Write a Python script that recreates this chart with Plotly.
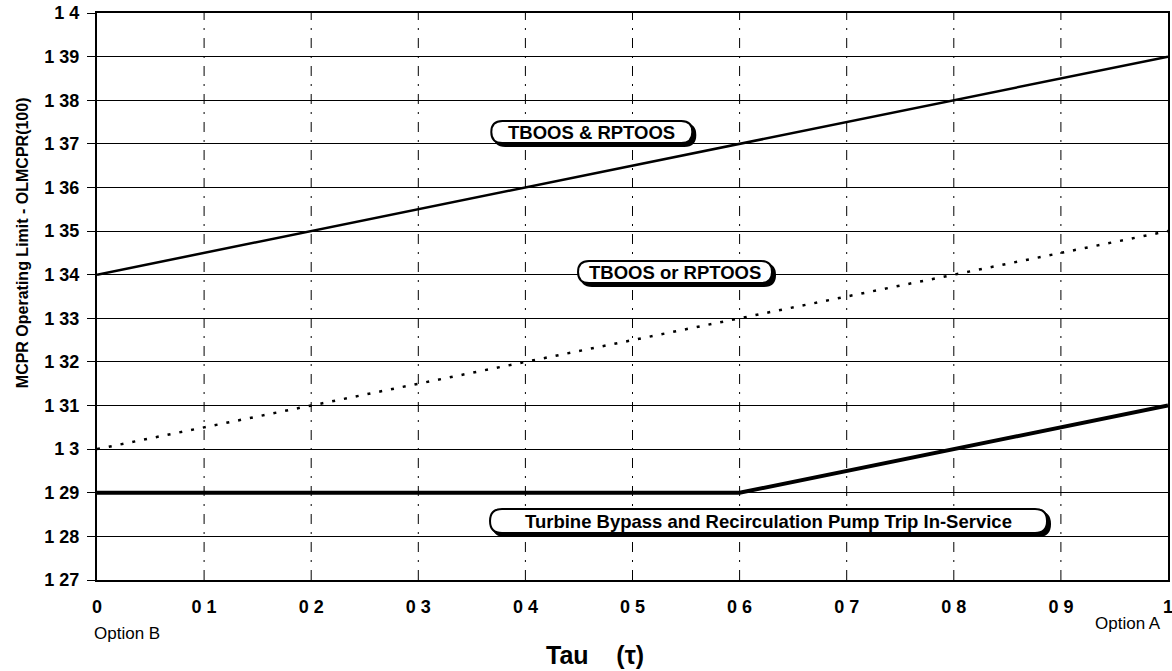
import plotly.graph_objects as go

# Data
tau_both = [0.0, 1.0]
ol_both = [1.34, 1.39]          # TBOOS & RPTOOS
tau_either = [0.0, 1.0]
ol_either = [1.30, 1.35]        # TBOOS or RPTOOS
tau_inserv = [0.0, 0.6, 1.0]
ol_inserv = [1.29, 1.29, 1.31]  # Turbine Bypass and Recirculation Pump Trip In-Service

y_tickvals = [1.27, 1.28, 1.29, 1.30, 1.31, 1.32, 1.33, 1.34, 1.35, 1.36, 1.37, 1.38, 1.39, 1.40]
y_ticktext = ["1 27", "1 28", "1 29", "1 3", "1 31", "1 32", "1 33", "1 34", "1 35", "1 36", "1 37", "1 38", "1 39", "1 4"]
x_tickvals = [0, 0.1, 0.2, 0.3, 0.4, 0.5, 0.6, 0.7, 0.8, 0.9, 1.0]
x_ticktext = ["0", "0 1", "0 2", "0 3", "0 4", "0 5", "0 6", "0 7", "0 8", "0 9", "1"]

# label text, anchor x, anchor y, box width px, box height px
labels = [
    ("TBOOS & RPTOOS", 0.462, 1.3727, 201, 22),
    ("TBOOS or RPTOOS", 0.5397, 1.3406, 194, 22),
    ("Turbine Bypass and Recirculation Pump Trip In-Service", 0.627, 1.2835, 557, 24),
]

FONT = "Liberation Sans, Arial, sans-serif"


def stadium(w, h, dx=0.0, dy=0.0):
    r = h / 2.0
    L, R, T, B = -w / 2 + dx, w / 2 + dx, h / 2 + dy, -h / 2 + dy
    cy = dy
    return (f"M {L + r},{T} L {R - r},{T} Q {R},{T} {R},{cy} Q {R},{B} {R - r},{B} "
            f"L {L + r},{B} Q {L},{B} {L},{cy} Q {L},{T} {L + r},{T} Z")


fig = go.Figure()

# vertical dash-dot gridlines
for xv in x_tickvals[1:-1]:
    fig.add_shape(type="line", x0=xv, x1=xv, y0=1.27, y1=1.40, xref="x", yref="y",
                  line=dict(color="black", width=1, dash="10px,8px,2px,8px"), layer="below")

fig.add_trace(go.Scatter(x=tau_both, y=ol_both, mode="lines",
                         line=dict(color="black", width=2.5), showlegend=False))
fig.add_trace(go.Scatter(x=tau_either, y=ol_either, mode="lines",
                         line=dict(color="black", width=2.5, dash="3px,9px"), showlegend=False))
fig.add_trace(go.Scatter(x=tau_inserv, y=ol_inserv, mode="lines",
                         line=dict(color="black", width=4), showlegend=False))

for text, lx, ly, bw, bh in labels:
    common = dict(type="path", xref="x", yref="y", xsizemode="pixel", ysizemode="pixel",
                  xanchor=lx, yanchor=ly, layer="above")
    fig.add_shape(path=stadium(bw, bh, 3, -3), fillcolor="black",
                  line=dict(color="black", width=2), **common)
    fig.add_shape(path=stadium(bw, bh), fillcolor="white",
                  line=dict(color="black", width=2), **common)
    fig.add_annotation(x=lx, y=ly, xref="x", yref="y", text="<b>" + text + "</b>",
                       showarrow=False, font=dict(family=FONT, size=18.5, color="black"))

fig.add_annotation(x=0, y=0, xref="x", yref="paper", text="Option B", showarrow=False,
                   xanchor="left", yanchor="middle", yshift=-53, xshift=-5,
                   font=dict(family=FONT, size=17, color="black"))
fig.add_annotation(x=1, y=0, xref="x", yref="paper", text="Option A", showarrow=False,
                   xanchor="right", yanchor="middle", yshift=-43, xshift=-5,
                   font=dict(family=FONT, size=17, color="black"))
fig.add_annotation(x=0.465, y=0, xref="x", yref="paper",
                   text="<b>Tau&nbsp;&nbsp;&nbsp;&nbsp;(τ)</b>", showarrow=False,
                   xanchor="center", yanchor="middle", yshift=-75,
                   font=dict(family=FONT, size=25, color="black"))
fig.add_annotation(x=0, y=0.594, xref="paper", yref="paper",
                   text="<b>MCPR Operating Limit - OLMCPR(100)</b>", showarrow=False,
                   textangle=-90, xanchor="center", yanchor="middle", xshift=-75,
                   font=dict(family=FONT, size=16, color="black"))

fig.update_layout(
    width=1172, height=671,
    margin=dict(l=97, r=4, t=13, b=91),
    paper_bgcolor="white", plot_bgcolor="white",
    font=dict(family=FONT, color="black"),
    hovermode=False,
    xaxis=dict(range=[0, 1], tickvals=x_tickvals, ticktext=x_ticktext, automargin=False,
               tickfont=dict(family=FONT, size=18, color="black", weight="bold"),
               showgrid=False, zeroline=False, showline=True, linecolor="black",
               linewidth=2, mirror=True, ticks="", ticklabelstandoff=9,
               ticklabeloverflow="allow"),
    yaxis=dict(range=[1.27, 1.40], tickvals=y_tickvals, ticktext=y_ticktext, automargin=False,
               tickfont=dict(family=FONT, size=18, color="black", weight="bold"),
               showgrid=True, gridcolor="black", gridwidth=1.2, zeroline=False,
               showline=True, linecolor="black", linewidth=2, mirror=True,
               ticks="outside", ticklen=8, tickcolor="black", ticklabelstandoff=4,
               ticklabeloverflow="allow"),
)

fig.write_html("out.html", config={"displayModeBar": False},
               post_script="document.body.style.margin='0';document.body.style.overflow='hidden';")
